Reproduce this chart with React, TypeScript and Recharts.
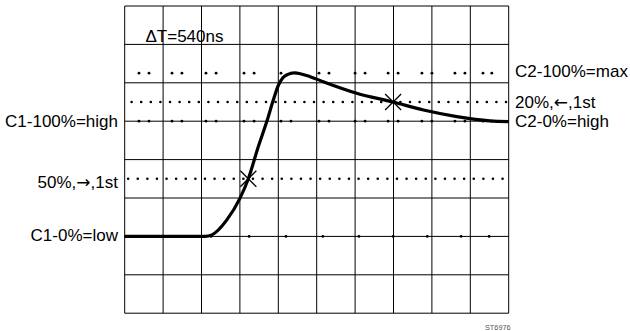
import React from 'react';
import { ComposedChart, Line, Scatter, XAxis, YAxis, ReferenceLine } from 'recharts';

// screen is 10 x 8 divisions, values in divisions
const xDivs = [0, 1, 2, 3, 4, 5, 6, 7, 8, 9, 10];
const yDivs = [0, 1, 2, 3, 4, 5, 6, 7, 8];

// levels (divisions from bottom)
const LOW = 2;
const HIGH = 5;
const MAX = 6.25;
const LEVEL_50 = 3.5;
const LEVEL_20 = 5.5;

// trace
const traceX = [0, 2.09, 2.27, 2.66, 3.0, 3.22, 3.48, 3.7, 3.87, 4.0, 4.12, 4.25, 4.42, 4.6, 4.83, 5.17, 6.04, 6.99, 7.78, 8.65, 9.51, 10];
const traceY = [2.0, 2.0, 2.04, 2.43, 2.99, 3.5, 4.34, 4.99, 5.55, 5.93, 6.13, 6.22, 6.26, 6.23, 6.16, 6.03, 5.73, 5.5, 5.29, 5.12, 5.01, 4.99];

// paired marker dots on max / high rows
const pairA = [0.372, 1.232, 2.117, 3.107, 4.07, 5.06, 6.0, 6.86, 7.74, 8.6, 9.33];
const pairB = [0.633, 1.49, 2.38, 3.37, 4.33, 5.32, 6.26, 7.12, 8.0, 8.86, 9.56];
// single dots on low row
const singleDots = [0.48, 1.39, 2.25, 3.24, 4.2, 5.16, 6.1, 6.99, 7.88, 8.76, 9.49];

// cursor crossings
const crossX = [3.22, 6.99];
const crossY = [LEVEL_50, LEVEL_20];

const traceData = traceX.map((x, i) => ({ x, y: traceY[i] }));
const pairs = [...pairA, ...pairB];
const maxRow = pairs.map((x) => ({ x, y: MAX }));
const highRow = pairs.map((x) => ({ x, y: HIGH }));
const lowRow = singleDots.map((x) => ({ x, y: LOW }));
const crossData = crossX.map((x, i) => ({ x, y: crossY[i] }));

const FONT = '"Liberation Sans", Arial, sans-serif';
const ARROW_FONT = '"DejaVu Sans", sans-serif';

const Dot = (props: any) => <circle cx={props.cx} cy={props.cy} r={1.4} fill="#000" />;

const Cross = (props: any) => {
  const { cx, cy } = props;
  const d = 8;
  return (
    <g stroke="#000" strokeWidth={1.3}>
      <line x1={cx - d} y1={cy - d} x2={cx + d} y2={cy + d} />
      <line x1={cx - d} y1={cy + d} x2={cx + d} y2={cy - d} />
    </g>
  );
};

const dotted = {
  stroke: '#000',
  strokeWidth: 2.6,
  strokeDasharray: '0 9.6',
  strokeLinecap: 'round' as const,
};

export default function App() {
  return (
    <div style={{ position: 'absolute', left: 0, top: 0, width: 630, height: 331, background: '#fff' }}>
      <ComposedChart
        width={630}
        height={331}
        margin={{ top: 6, left: 124.7, right: 121.3, bottom: 17.8 }}
      >
        <XAxis type="number" dataKey="x" domain={[0, 10]} hide />
        <YAxis type="number" dataKey="y" domain={[0, 8]} hide />

        {xDivs.map((x) => (
          <ReferenceLine key={`vx-${x}`} x={x} stroke="#000" strokeWidth={1} />
        ))}
        {yDivs.map((y) => (
          <ReferenceLine key={`hy-${y}`} y={y} stroke="#000" strokeWidth={1} />
        ))}

        <ReferenceLine segment={[{ x: 0.09, y: LEVEL_50 }, { x: 9.95, y: LEVEL_50 }]} {...dotted} />
        <ReferenceLine segment={[{ x: 0.18, y: LEVEL_20 }, { x: 9.95, y: LEVEL_20 }]} {...dotted} />

        <Scatter data={maxRow} dataKey="y" shape={Dot} isAnimationActive={false} />
        <Scatter data={highRow} dataKey="y" shape={Dot} isAnimationActive={false} />
        <Scatter data={lowRow} dataKey="y" shape={Dot} isAnimationActive={false} />

        <Line
          data={traceData}
          dataKey="y"
          type="monotone"
          stroke="#000"
          strokeWidth={3.2}
          dot={false}
          activeDot={false}
          isAnimationActive={false}
        />

        <Scatter data={crossData} dataKey="y" shape={Cross} isAnimationActive={false} />
      </ComposedChart>

      <svg
        width={630}
        height={331}
        style={{ position: 'absolute', left: 0, top: 0, pointerEvents: 'none' }}
        fontFamily={FONT}
        fontSize={17}
        fill="#000"
      >
        <text x={145.5} y={42}>ΔT=540ns</text>
        <text x={118} y={127} textAnchor="end">C1-100%=high</text>
        <text x={118} y={188} textAnchor="end">
          50%,<tspan fontFamily={ARROW_FONT}>→</tspan>,1st
        </text>
        <text x={118} y={241} textAnchor="end">C1-0%=low</text>
        <text x={515} y={77}>C2-100%=max</text>
        <text x={515} y={108}>
          20%,<tspan fontFamily={ARROW_FONT}>←</tspan>,1st
        </text>
        <text x={515} y={127}>C2-0%=high</text>
        <text x={485} y={330} fontSize={7.3} fill="#555">ST6976</text>
      </svg>
    </div>
  );
}
